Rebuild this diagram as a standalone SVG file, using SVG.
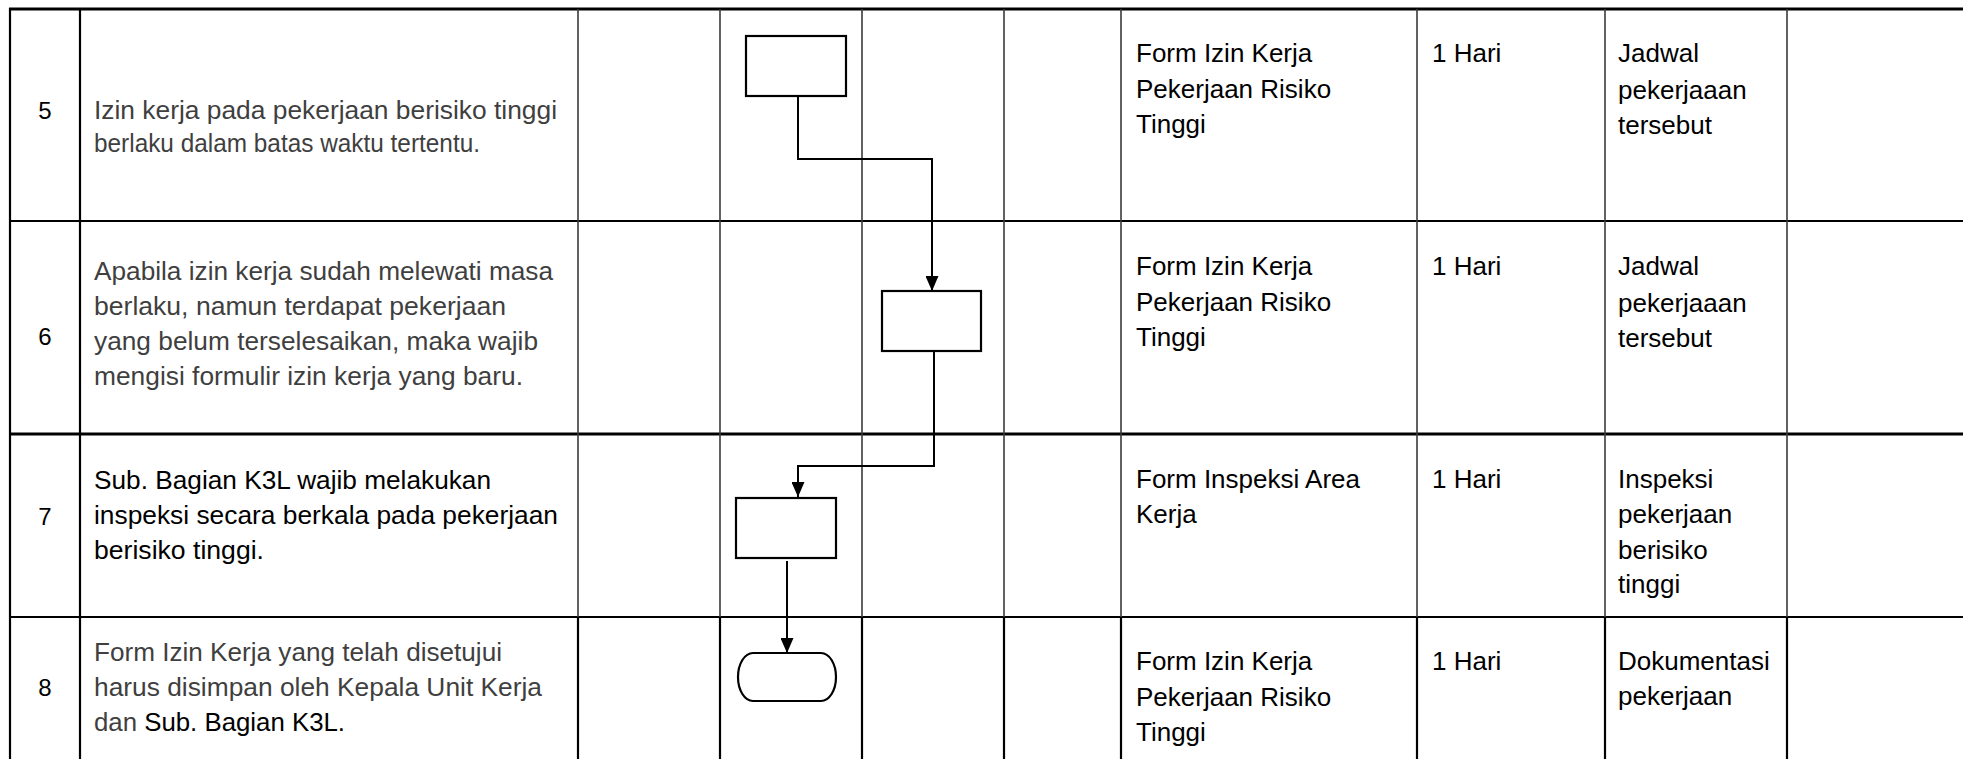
<svg xmlns="http://www.w3.org/2000/svg" width="1963" height="759" viewBox="0 0 1963 759">
<style>
.bg{fill:#ffffff}
.gl{stroke:#3a3a3a;stroke-width:1.6;fill:none}
.gk{stroke:#000000;stroke-width:2.2;fill:none}
.hl{stroke:#000000;fill:none}
.node{fill:#ffffff;stroke:#000000;stroke-width:2.2}
.conn{stroke:#000000;stroke-width:2;fill:none}
.t{font-family:"Liberation Sans",Arial,sans-serif;font-size:26px;fill:#000000}
.tl{font-family:"Liberation Sans",Arial,sans-serif;font-size:25px;fill:#000000}
.tg{font-family:"Liberation Sans",Arial,sans-serif;font-size:25px;fill:#3f3f3f}
.num{font-family:"Liberation Sans",Arial,sans-serif;font-size:24px;fill:#000000;text-anchor:middle}
</style>
<defs>
<marker id="arr" markerWidth="15" markerHeight="13" refX="15" refY="6.5" orient="auto" markerUnits="userSpaceOnUse">
<path d="M0,0 L15,6.5 L0,13 Z" fill="#000000"/>
</marker>
</defs>
<rect class="bg" x="0" y="0" width="1963" height="759"/>

<g id="grid">
<line x1="9" y1="9" x2="1963" y2="9" stroke="#000" stroke-width="3.2"/>
<line class="gk" x1="10" y1="8" x2="10" y2="759"/>
<line class="hl" x1="10" y1="221" x2="1963" y2="221" stroke-width="2"/>
<line class="hl" x1="10" y1="434" x2="1963" y2="434" stroke-width="2.8"/>
<line class="hl" x1="10" y1="617" x2="1963" y2="617" stroke-width="2"/>
<line class="gk" x1="80" y1="9" x2="80" y2="617"/>
<line class="gl" x1="578" y1="9" x2="578" y2="617"/>
<line class="gl" x1="720" y1="9" x2="720" y2="617"/>
<line class="gl" x1="862" y1="9" x2="862" y2="617"/>
<line class="gl" x1="1004" y1="9" x2="1004" y2="617"/>
<line class="gl" x1="1121" y1="9" x2="1121" y2="617"/>
<line class="gl" x1="1417" y1="9" x2="1417" y2="617"/>
<line class="gl" x1="1605" y1="9" x2="1605" y2="617"/>
<line class="gl" x1="1787" y1="9" x2="1787" y2="617"/>
<line class="gk" x1="80" y1="617" x2="80" y2="759"/>
<line class="gk" x1="578" y1="617" x2="578" y2="759"/>
<line class="gk" x1="720" y1="617" x2="720" y2="759"/>
<line class="gk" x1="862" y1="617" x2="862" y2="759"/>
<line class="gk" x1="1004" y1="617" x2="1004" y2="759"/>
<line class="gk" x1="1121" y1="617" x2="1121" y2="759"/>
<line class="gk" x1="1417" y1="617" x2="1417" y2="759"/>
<line class="gk" x1="1605" y1="617" x2="1605" y2="759"/>
<line class="gk" x1="1787" y1="617" x2="1787" y2="759"/>
</g>

<g id="row5-text">
<text class="num" x="45" y="119">5</text>
<text class="tg" x="94" y="119" textLength="463" lengthAdjust="spacingAndGlyphs">Izin kerja pada pekerjaan berisiko tinggi</text>
<text class="tg" x="94" y="152" textLength="386" lengthAdjust="spacingAndGlyphs">berlaku dalam batas waktu tertentu.</text>
<text class="t" x="1136" y="62">Form Izin Kerja</text>
<text class="t" x="1136" y="98">Pekerjaan Risiko</text>
<text class="t" x="1136" y="133">Tinggi</text>
<text class="t" x="1432" y="62">1 Hari</text>
<text class="t" x="1618" y="62">Jadwal</text>
<text class="t" x="1618" y="99">pekerjaaan</text>
<text class="t" x="1618" y="134">tersebut</text>
</g>

<g id="row6-text">
<text class="num" x="45" y="345">6</text>
<text class="tg" x="94" y="280" textLength="459" lengthAdjust="spacingAndGlyphs">Apabila izin kerja sudah melewati masa</text>
<text class="tg" x="94" y="315" textLength="412" lengthAdjust="spacingAndGlyphs">berlaku, namun terdapat pekerjaan</text>
<text class="tg" x="94" y="350" textLength="444" lengthAdjust="spacingAndGlyphs">yang belum terselesaikan, maka wajib</text>
<text class="tg" x="94" y="385" textLength="429" lengthAdjust="spacingAndGlyphs">mengisi formulir izin kerja yang baru.</text>
<text class="t" x="1136" y="275">Form Izin Kerja</text>
<text class="t" x="1136" y="311">Pekerjaan Risiko</text>
<text class="t" x="1136" y="346">Tinggi</text>
<text class="t" x="1432" y="275">1 Hari</text>
<text class="t" x="1618" y="275">Jadwal</text>
<text class="t" x="1618" y="312">pekerjaaan</text>
<text class="t" x="1618" y="347">tersebut</text>
</g>

<g id="row7-text">
<text class="num" x="45" y="525">7</text>
<text class="tl" x="94" y="489" textLength="397" lengthAdjust="spacingAndGlyphs">Sub. Bagian K3L wajib melakukan</text>
<text class="tl" x="94" y="524" textLength="464" lengthAdjust="spacingAndGlyphs">inspeksi secara berkala pada pekerjaan</text>
<text class="tl" x="94" y="559" textLength="170" lengthAdjust="spacingAndGlyphs">berisiko tinggi.</text>
<text class="t" x="1136" y="488">Form Inspeksi Area</text>
<text class="t" x="1136" y="523">Kerja</text>
<text class="t" x="1432" y="488">1 Hari</text>
<text class="t" x="1618" y="488">Inspeksi</text>
<text class="t" x="1618" y="523">pekerjaan</text>
<text class="t" x="1618" y="559">berisiko</text>
<text class="t" x="1618" y="593">tinggi</text>
</g>

<g id="row8-text">
<text class="num" x="45" y="696">8</text>
<text class="tg" x="94" y="661" textLength="408" lengthAdjust="spacingAndGlyphs">Form Izin Kerja yang telah disetujui</text>
<text class="tg" x="94" y="696" textLength="448" lengthAdjust="spacingAndGlyphs">harus disimpan oleh Kepala Unit Kerja</text>
<text class="tg" x="94" y="731" textLength="251" lengthAdjust="spacingAndGlyphs">dan <tspan fill="#000000">Sub. Bagian K3L.</tspan></text>
<text class="t" x="1136" y="670">Form Izin Kerja</text>
<text class="t" x="1136" y="706">Pekerjaan Risiko</text>
<text class="t" x="1136" y="741">Tinggi</text>
<text class="t" x="1432" y="670">1 Hari</text>
<text class="t" x="1618" y="670">Dokumentasi</text>
<text class="t" x="1618" y="705">pekerjaan</text>
</g>

<g id="connectors">
<path class="conn" d="M798,96 V159 H932 V291" marker-end="url(#arr)"/>
<path class="conn" d="M934,351 V466 H798 V497" marker-end="url(#arr)"/>
<path class="conn" d="M787,561 V653" marker-end="url(#arr)"/>
</g>

<g id="node-5">
<rect class="node" x="746" y="36" width="100" height="60"/>
</g>
<g id="node-6">
<rect class="node" x="882" y="291" width="99" height="60"/>
</g>
<g id="node-7">
<rect class="node" x="736" y="498" width="100" height="60"/>
</g>
<g id="node-8">
<rect class="node" x="738" y="653" width="98" height="48" rx="15" ry="24"/>
</g>
</svg>
